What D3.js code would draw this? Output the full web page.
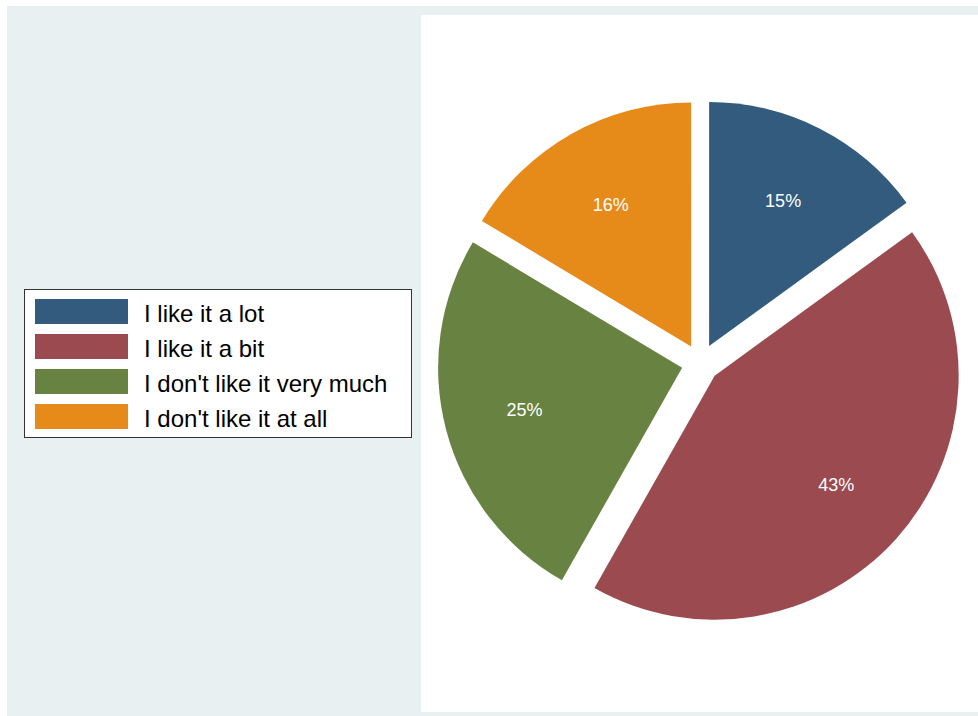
<!DOCTYPE html>
<html lang="en">
	<head>
		<meta charset="utf-8">
		<title>Pie chart</title>
		<script type="text/javascript" src="https://cdn.jsdelivr.net/npm/d3@7"></script>
		<style type="text/css">
			body { margin: 0; background: #fff; }
		</style>
	</head>
	<body>
		<script type="text/javascript">

			var w = 978;
			var h = 716;

			// data
			var categories = ["I like it a lot", "I like it a bit", "I don't like it very much", "I don't like it at all"];
			var values = [15.0, 43.2, 25.4, 16.4];
			var labels = ["15%", "43%", "25%", "16%"];
			var colors = ["#335b7e", "#9b4a50", "#688341", "#e68b19"];

			var cx = 700.5, cy = 363, radius = 244, explode = 19;

			var svg = d3.select("body")
						.append("svg")
						.attr("width", w)
						.attr("height", h);

			// outer panel
			svg.append("rect")
			   .attr("x", 7).attr("y", 6)
			   .attr("width", w - 7).attr("height", h - 6)
			   .attr("fill", "#e8f0f2");

			// plot region
			svg.append("rect")
			   .attr("x", 421).attr("y", 15)
			   .attr("width", w - 421).attr("height", 697)
			   .attr("fill", "#ffffff");

			var pie = d3.pie().sort(null).value(function(d) { return d; });
			var arcs = pie(values);

			var arc = d3.arc().innerRadius(0).outerRadius(radius);
			var labelArc = d3.arc().innerRadius(163).outerRadius(163);

			function offset(d) {
				var a = (d.startAngle + d.endAngle) / 2;
				return [Math.sin(a) * explode, -Math.cos(a) * explode];
			}

			var slices = svg.append("g")
				.attr("transform", "translate(" + cx + "," + cy + ")")
				.selectAll("g")
				.data(arcs)
				.enter()
				.append("g")
				.attr("transform", function(d) {
					var o = offset(d);
					return "translate(" + o[0] + "," + o[1] + ")";
				});

			slices.append("path")
				  .attr("d", arc)
				  .attr("fill", function(d, i) { return colors[i]; });

			slices.append("text")
				  .text(function(d, i) { return labels[i]; })
				  .attr("text-anchor", "middle")
				  .attr("x", function(d) { return labelArc.centroid(d)[0]; })
				  .attr("y", function(d) { return labelArc.centroid(d)[1] + 6.5; })
				  .attr("font-family", "'Liberation Sans', Arial, sans-serif")
				  .attr("font-size", "18px")
				  .attr("fill", "#ffffff");

			// legend
			var legend = svg.append("g");
			legend.append("rect")
				  .attr("x", 24.5).attr("y", 289.5)
				  .attr("width", 387).attr("height", 148)
				  .attr("fill", "#ffffff")
				  .attr("stroke", "#333333")
				  .attr("stroke-width", 1);

			var rowY = d3.scaleBand()
						 .domain(d3.range(categories.length))
						 .range([294, 434]);

			var rows = legend.selectAll("g.row")
				.data(categories)
				.enter()
				.append("g")
				.attr("class", "row")
				.attr("transform", function(d, i) {
					return "translate(0," + (rowY(i) + rowY.bandwidth() / 2) + ")";
				});

			rows.append("rect")
				.attr("x", 35).attr("y", -12.5)
				.attr("width", 93).attr("height", 25)
				.attr("fill", function(d, i) { return colors[i]; });

			rows.append("text")
				.text(function(d) { return d; })
				.attr("x", 144)
				.attr("y", 10)
				.attr("font-family", "'Liberation Sans', Arial, sans-serif")
				.attr("font-size", "24px")
				.attr("fill", "#000000");

		</script>
	</body>
</html>
